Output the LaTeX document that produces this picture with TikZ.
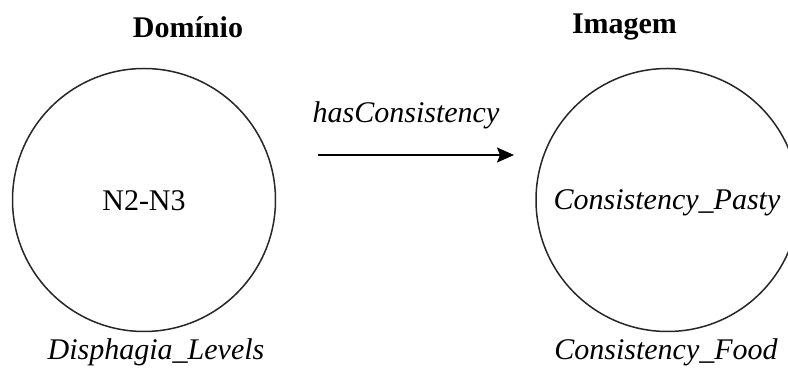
\documentclass[tikz,border=0pt]{standalone}
\usepackage{fontspec}
\setmainfont{Liberation Serif}
\usetikzlibrary{arrows.meta}
\begin{document}
\begin{tikzpicture}[x=1pt,y=-1pt,
  settext/.style={font=\fontsize{30}{36}\selectfont, inner sep=0pt},
  settitle/.style={settext, font=\fontsize{30}{36}\selectfont\bfseries},
  setitem/.style={settext, font=\fontsize{30}{36}\selectfont\itshape},
  setcircle/.style={circle, draw=black!85, line width=1.5pt, minimum size=263pt, inner sep=0pt},
  maparrow/.style={line width=1.8pt, -{Stealth[length=17pt,width=15pt,inset=3pt]}}]
  \useasboundingbox (0,0) rectangle (788,371);
  \clip (0,0) rectangle (788,371);
  % domain set
  \node[setcircle] (dom) at (144,200) {};
  \node[settitle] (domtitle) at (188,27) {Domínio};
  \node[settext] (n23) at (144,201) {N2-N3};
  \node[setitem] (domname) at (156,352) {Disphagia\_Levels};
  % image set
  \node[setcircle] (img) at (667.5,200) {};
  \node[settitle] (imgtitle) at (624.5,27) {Imagem};
  \node[setitem] (pasty) at (667,203) {Consistency\_Pasty};
  \node[setitem] (imgname) at (666,352) {Consistency\_Food};
  % mapping
  \coordinate (mapstart) at (318,155);
  \coordinate (mapend) at (514,155);
  \draw[maparrow] (mapstart) -- (mapend);
  \node[setitem] (maplabel) at (406,115) {hasConsistency};
\end{tikzpicture}
\end{document}
